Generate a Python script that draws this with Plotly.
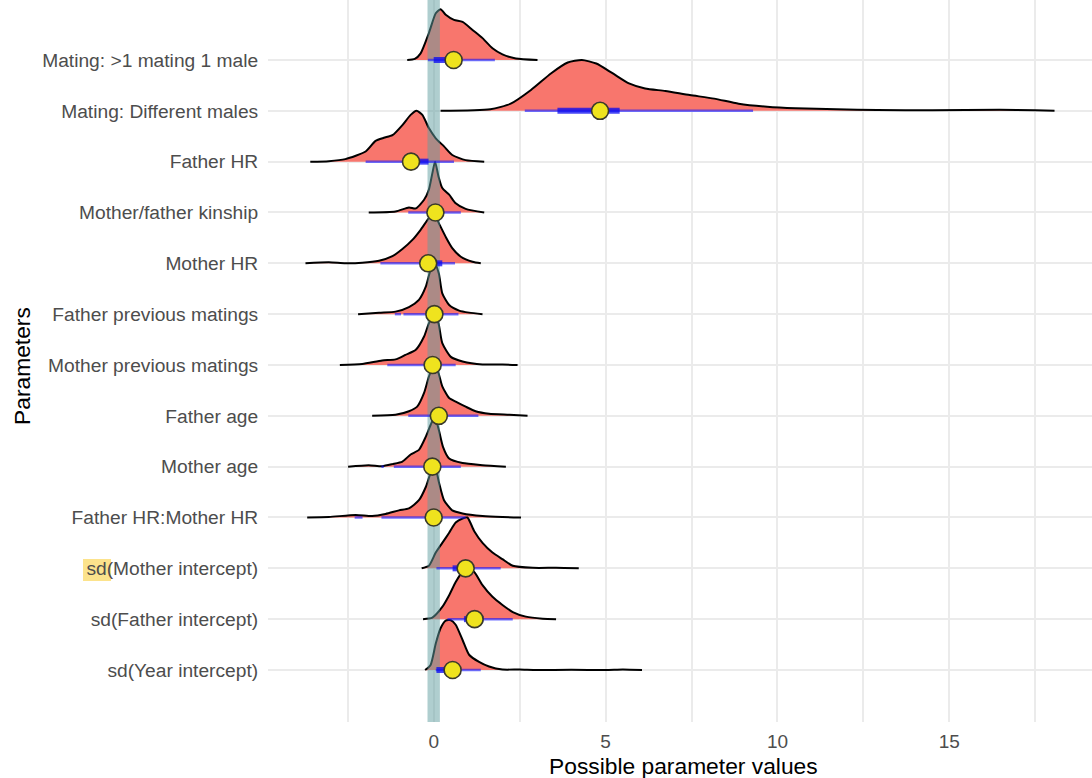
import plotly.graph_objects as go

# ---------------- data ----------------
params = [
    "Mating: >1 mating 1 male", "Mating: Different males", "Father HR",
    "Mother/father kinship", "Mother HR", "Father previous matings",
    "Mother previous matings", "Father age", "Mother age",
    "Father HR:Mother HR", "sd(Mother intercept)", "sd(Father intercept)",
    "sd(Year intercept)",
]

# density outlines (x value, relative ridge height)
mating1_x = [-0.77, -0.55, -0.38, -0.14, 0.06, 0.20, 0.35, 0.59, 0.84, 1.13, 1.42, 1.71, 2.00, 2.39, 3.02]
mating1_h = [0, 0.02, 0.13, 0.53, 0.92, 1.0, 0.89, 0.79, 0.75, 0.59, 0.43, 0.23, 0.11, 0.03, 0]
mating2_x = [0.2, 1.65, 2.24, 2.83, 3.42, 3.90, 4.31, 4.73, 5.20, 5.68, 6.15, 6.74, 7.45, 8.16, 8.87, 9.70, 10.53, 11.72, 12.9, 14.5, 16.46, 17.5, 18.06]
mating2_h = [0, 0.03, 0.14, 0.41, 0.74, 0.95, 1.0, 0.93, 0.74, 0.54, 0.44, 0.39, 0.31, 0.24, 0.14, 0.08, 0.05, 0.03, 0.015, 0.01, 0.02, 0.01, 0]
fhr_x = [-3.59, -3.05, -2.57, -1.98, -1.69, -1.45, -1.2, -0.91, -0.67, -0.5, -0.33, -0.14, 0.06, 0.30, 0.54, 0.93, 1.47]
fhr_h = [0, 0.01, 0.05, 0.2, 0.41, 0.47, 0.52, 0.72, 0.92, 1.0, 0.92, 0.66, 0.46, 0.3, 0.13, 0.03, 0]
kin_x = [-1.89, -1.11, -0.72, -0.52, -0.28, -0.14, -0.04, 0.04, 0.14, 0.25, 0.45, 0.64, 0.93, 1.47]
kin_h = [0, 0.02, 0.1, 0.08, 0.25, 0.45, 0.77, 1.0, 0.71, 0.48, 0.35, 0.18, 0.07, 0]
mhr_x = [-3.73, -3.05, -2.57, -2.08, -1.59, -1.2, -0.91, -0.62, -0.38, -0.14, 0.01, 0.15, 0.35, 0.54, 0.79, 1.13, 1.37]
mhr_h = [0, 0.02, 0, 0.01, 0.05, 0.14, 0.28, 0.46, 0.66, 0.89, 0.98, 0.79, 0.52, 0.3, 0.13, 0.03, 0]
fprev_x = [-2.2, -1.59, -1.11, -0.72, -0.43, -0.23, -0.09, 0.03, 0.15, 0.25, 0.45, 0.74, 1.03, 1.42]
fprev_h = [0, 0.03, 0.05, 0.14, 0.28, 0.54, 0.87, 1.0, 0.8, 0.41, 0.18, 0.07, 0.03, 0]
mprev_x = [-2.73, -2.08, -1.5, -1.11, -0.82, -0.52, -0.28, -0.14, 0.01, 0.14, 0.25, 0.5, 0.84, 1.42, 2.0, 2.44]
mprev_h = [0, 0.02, 0.09, 0.11, 0.2, 0.3, 0.56, 0.82, 1.0, 0.82, 0.43, 0.16, 0.07, 0.01, 0.01, 0]
fage_x = [-1.79, -1.11, -0.72, -0.48, -0.28, -0.14, 0.01, 0.14, 0.25, 0.45, 0.64, 0.93, 1.22, 1.61, 2.2, 2.73]
fage_h = [0, 0.02, 0.09, 0.18, 0.45, 0.77, 1.0, 0.84, 0.58, 0.35, 0.28, 0.18, 0.09, 0.04, 0.02, 0]
mage_x = [-2.49, -1.89, -1.5, -1.2, -0.91, -0.67, -0.43, -0.23, -0.09, 0.03, 0.15, 0.27, 0.45, 0.84, 1.42, 2.1]
mage_h = [0, 0.03, 0.01, 0.05, 0.1, 0.24, 0.33, 0.59, 0.82, 0.98, 0.72, 0.39, 0.16, 0.07, 0.03, 0]
hrint_x = [-3.68, -3.05, -2.27, -1.79, -1.4, -1.01, -0.72, -0.43, -0.23, -0.09, 0.04, 0.15, 0.3, 0.54, 0.84, 1.42, 2.0, 2.54]
hrint_h = [0, 0.01, 0.05, 0.03, 0.07, 0.14, 0.18, 0.34, 0.6, 0.87, 1.0, 0.7, 0.34, 0.14, 0.08, 0.03, 0.01, 0]
sdm_x = [-0.35, -0.14, 0.06, 0.25, 0.45, 0.64, 0.84, 0.98, 1.18, 1.42, 1.71, 2.0, 2.3, 2.88, 3.56, 4.22]
sdm_h = [0, 0.05, 0.31, 0.5, 0.7, 0.9, 0.98, 1.0, 0.73, 0.5, 0.31, 0.18, 0.05, 0.01, 0.01, 0]
sdf_x = [-0.31, -0.04, 0.25, 0.45, 0.64, 0.84, 1.03, 1.18, 1.42, 1.71, 2.0, 2.3, 2.68, 3.17, 3.56]
sdf_h = [0, 0.03, 0.24, 0.47, 0.73, 0.93, 0.98, 0.93, 0.67, 0.44, 0.28, 0.14, 0.05, 0.01, 0]
sdy_x = [-0.25, -0.09, 0.06, 0.2, 0.35, 0.5, 0.64, 0.84, 1.03, 1.32, 1.61, 2.0, 2.5, 3.0, 4.0, 5.0, 5.5, 6.06]
sdy_h = [0, 0.1, 0.52, 0.82, 0.97, 0.98, 0.89, 0.59, 0.3, 0.16, 0.07, 0.01, 0.01, 0.0, 0.005, 0.0, 0.01, 0]

dens_x = [mating1_x, mating2_x, fhr_x, kin_x, mhr_x, fprev_x, mprev_x, fage_x, mage_x, hrint_x, sdm_x, sdf_x, sdy_x]
dens_h = [mating1_h, mating2_h, fhr_h, kin_h, mhr_h, fprev_h, mprev_h, fage_h, mage_h, hrint_h, sdm_h, sdf_h, sdy_h]

# point estimates and intervals
point_est = [0.58, 4.84, -0.66, 0.05, -0.16, 0.02, -0.03, 0.15, -0.04, 0.0, 0.93, 1.19, 0.55]
wide_lo = [-0.17, 2.65, -1.98, -0.74, -1.55, -0.88, -1.35, -0.74, -1.16, -1.52, 0.08, 0.40, 0.06]
wide_hi = [1.78, 9.29, 0.59, 0.79, 0.62, 0.72, 0.64, 1.30, 0.79, 0.93, 1.95, 2.30, 1.37]
narrow_lo = [0.0, 3.60, -0.80, -0.10, -0.30, -0.10, -0.15, 0.00, -0.15, -0.10, 0.55, 0.88, 0.08]
narrow_hi = [0.70, 5.41, -0.15, 0.20, 0.25, 0.12, 0.10, 0.30, 0.10, 0.15, 1.15, 1.45, 0.70]
extra_param = ["Father previous matings", "Mother age", "Father HR:Mother HR"]
extra_lo = [-1.13, -1.52, -2.30]
extra_hi = [-0.95, -1.45, -2.07]

x_ticks = [0, 5, 10, 15]

# ---------------- figure ----------------
n = len(params)
pos = {p: n - i for i, p in enumerate(params)}  # top row highest
SCALE = 1.0

fig = go.Figure()

# densities, drawn from top row to bottom row so lower ridges overlap
for i, p in enumerate(params):
    base = pos[p]
    xs = dens_x[i]
    ys = [base + SCALE * h for h in dens_h[i]]
    fig.add_trace(go.Scatter(
        x=xs + xs[::-1], y=ys + [base] * len(xs), mode="lines",
        fill="toself", fillcolor="#F8766D", line=dict(width=0, shape="spline", smoothing=0.6),
        hoverinfo="skip", showlegend=False))
    fig.add_trace(go.Scatter(
        x=xs, y=ys, mode="lines", line=dict(color="black", width=2, shape="spline", smoothing=0.6),
        hoverinfo="skip", showlegend=False))

# vertical reference band at zero (semi-transparent, above densities)
fig.add_trace(go.Scatter(
    x=[-0.18, 0.18, 0.18, -0.18, -0.18], y=[-1, -1, 20, 20, -1], mode="lines",
    fill="toself", fillcolor="rgba(95,158,160,0.5)", line=dict(width=0),
    hoverinfo="skip", showlegend=False))

# intervals
for i, p in enumerate(params):
    base = pos[p]
    fig.add_trace(go.Scatter(x=[wide_lo[i], wide_hi[i]], y=[base, base], mode="lines",
                             line=dict(color="rgba(20,20,255,0.6)", width=2.5),
                             hoverinfo="skip", showlegend=False))
for j, p in enumerate(extra_param):
    base = pos[p]
    fig.add_trace(go.Scatter(x=[extra_lo[j], extra_hi[j]], y=[base, base], mode="lines",
                             line=dict(color="rgba(20,20,255,0.6)", width=2.5),
                             hoverinfo="skip", showlegend=False))
for i, p in enumerate(params):
    base = pos[p]
    fig.add_trace(go.Scatter(x=[narrow_lo[i], narrow_hi[i]], y=[base, base], mode="lines",
                             line=dict(color="rgba(10,10,240,0.75)", width=6),
                             hoverinfo="skip", showlegend=False))

# points
fig.add_trace(go.Scatter(
    x=point_est, y=[pos[p] for p in params], mode="markers",
    marker=dict(size=17, color="#EFE31E", line=dict(color="#3A3A2A", width=1.6)),
    hoverinfo="skip", showlegend=False))

L, R, T, B = 268, 0, 0, 56
W, H = 1092, 778
pw, ph = W - L - R, H - T - B

def px_to_paper(xp, yp):
    return (xp - L) / pw, (H - B - yp) / ph

hx0, hy0 = px_to_paper(83, 581)
hx1, hy1 = px_to_paper(111, 559)

fig.update_layout(
    width=W, height=H,
    margin=dict(l=L, r=R, t=T, b=B),
    plot_bgcolor="white", paper_bgcolor="white",
    font=dict(family="Liberation Sans, Arial, sans-serif"),
    xaxis=dict(range=[-4.82, 19.15], tickvals=x_ticks, ticktext=[str(v) for v in x_ticks],
               showgrid=True, gridcolor="#EBEBEB", gridwidth=1.5, zeroline=False,
               minor=dict(dtick=2.5, tick0=0, showgrid=True, gridcolor="#EBEBEB", gridwidth=1.5),
               ticks="outside", ticklen=2, tickcolor="rgba(0,0,0,0)",
               tickfont=dict(size=19, color="#4D4D4D"), showline=False),
    yaxis=dict(range=[-0.023, 14.18], tickvals=[pos[p] for p in params], ticktext=params,
               showgrid=True, gridcolor="#EBEBEB", gridwidth=1.5, zeroline=False,
               ticks="outside", ticklen=5, tickcolor="rgba(0,0,0,0)",
               tickfont=dict(size=19.2, color="#4D4D4D"), showline=False),
    shapes=[dict(type="rect", xref="paper", yref="paper", x0=hx0, x1=hx1, y0=hy0, y1=hy1,
                 fillcolor="rgba(252,222,120,0.85)", line=dict(width=0), layer="below")],
    annotations=[
        dict(text="Possible parameter values", xref="paper", yref="paper",
             x=px_to_paper(683, 0)[0], y=px_to_paper(0, 766)[1], showarrow=False,
             xanchor="center", yanchor="middle", font=dict(size=22.8, color="black")),
        dict(text="Parameters", xref="paper", yref="paper", textangle=-90,
             x=px_to_paper(22, 0)[0], y=px_to_paper(0, 366)[1], showarrow=False,
             xanchor="center", yanchor="middle", font=dict(size=22.8, color="black")),
    ],
)

fig.write_html("out.html")
